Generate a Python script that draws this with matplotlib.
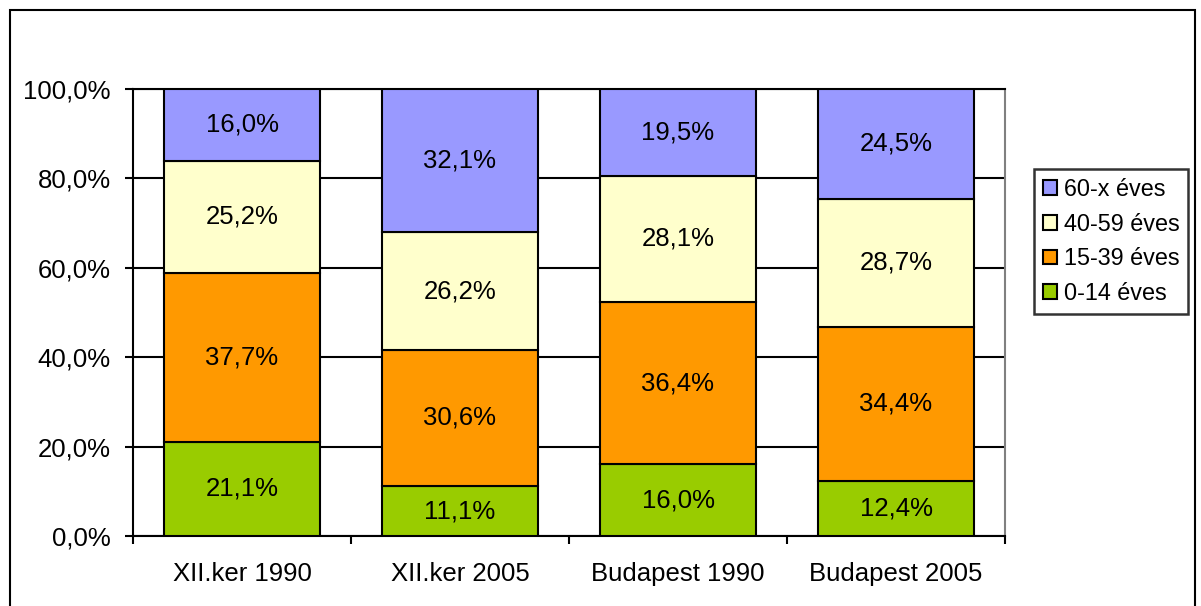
import matplotlib
matplotlib.use("Agg")
import matplotlib.pyplot as plt
from matplotlib.patches import Rectangle
import numpy as np

categories = ["XII.ker 1990", "XII.ker 2005", "Budapest 1990", "Budapest 2005"]
series_names = ["0-14 éves", "15-39 éves", "40-59 éves", "60-x éves"]
v_0_14 = [21.1, 11.1, 16.0, 12.4]
v_15_39 = [37.7, 30.6, 36.4, 34.4]
v_40_59 = [25.2, 26.2, 28.1, 28.7]
v_60_x = [16.0, 32.1, 19.5, 24.5]
colors = ["#99CC00", "#FF9900", "#FFFFCC", "#9999FF"]
yticks = [0, 20, 40, 60, 80, 100]

plt.rcParams['font.family'] = ['Liberation Sans', 'DejaVu Sans']
FS = 18.5

fig = plt.figure(figsize=(12.01, 6.06), dpi=100)
fig.patches.append(Rectangle((10/1201, -0.1), (1195-10)/1201, 1.1 - 10/606,
                             transform=fig.transFigure, fill=False,
                             edgecolor='black', linewidth=1.5))
ax = fig.add_axes([133/1201, 70/606, (1005-133)/1201, (536-89)/606])

x = np.arange(len(categories))
bottom = np.zeros(len(categories))
handles = []
for vals, name, c in zip([v_0_14, v_15_39, v_40_59, v_60_x], series_names, colors):
    vals = np.array(vals)
    bars = ax.bar(x, vals, width=0.716, bottom=bottom, color=c,
                  edgecolor='black', linewidth=1.5, label=name, zorder=3)
    for xi, b, v in zip(x, bottom, vals):
        ax.text(xi, b + v/2, f"{v:.1f}%".replace('.', ','), ha='center', va='center',
                fontsize=FS, zorder=4)
    handles.append(bars)
    bottom = bottom + vals

ax.set_xlim(-0.5, len(categories) - 0.5)
ax.set_ylim(0, 100)
ax.set_yticks(yticks)
ax.set_yticklabels([f"{t:.1f}%".replace('.', ',') for t in yticks], fontsize=FS)
ax.set_xticks(x)
ax.set_xticklabels(categories, fontsize=FS)
ax.tick_params(axis='x', which='major', length=0, pad=19)
ax.set_xticks(np.arange(-0.5, len(categories)), minor=True)
ax.tick_params(axis='x', which='minor', length=6, width=1.5, direction='out')
ax.tick_params(axis='y', length=6, width=1.5, direction='out', pad=10)
ax.yaxis.grid(True, color='black', linewidth=1.5, zorder=0)
for s in ax.spines.values():
    s.set_linewidth(1.5)
    s.set_color('black')
ax.spines['right'].set_color('#808080')

leg = ax.legend(handles=handles[::-1], labels=series_names[::-1], loc='upper left',
                bbox_to_anchor=(1034/1201, (606-169)/606), bbox_transform=fig.transFigure,
                fontsize=16.8, frameon=True, fancybox=False, edgecolor='black',
                handlelength=0.6, handleheight=0.6, handletextpad=0.3,
                labelspacing=0.5, borderpad=0.38, borderaxespad=0)
leg.get_frame().set_linewidth(1.8)

fig.savefig("out.png", dpi=100)
